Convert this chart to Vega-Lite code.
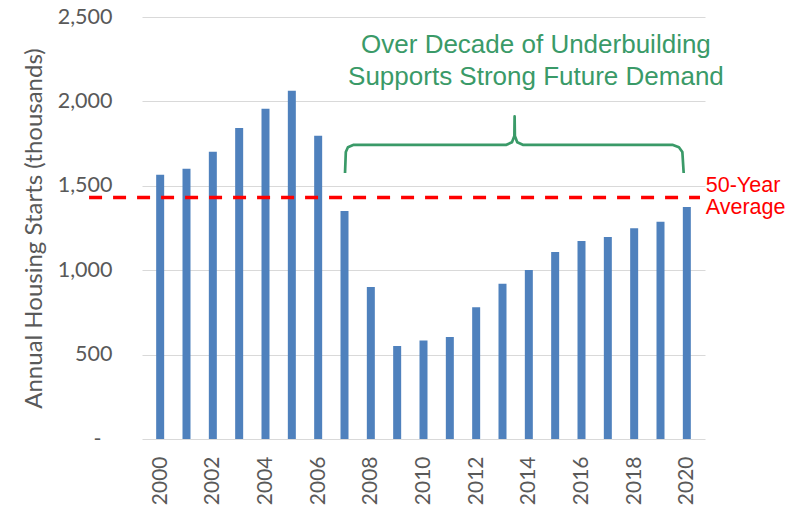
{
  "$schema": "https://vega.github.io/schema/vega-lite/v6.json",
  "width": 563,
  "height": 422,
  "autosize": "none",
  "padding": {"left": 142, "top": 17, "right": 93, "bottom": 67},
  "background": "white",
  "config": {"view": {"stroke": null}},
  "datasets": {
    "starts": [
      {"year": 2000, "starts": 1566},
      {"year": 2001, "starts": 1601},
      {"year": 2002, "starts": 1702},
      {"year": 2003, "starts": 1842},
      {"year": 2004, "starts": 1957},
      {"year": 2005, "starts": 2063},
      {"year": 2006, "starts": 1797},
      {"year": 2007, "starts": 1351},
      {"year": 2008, "starts": 900},
      {"year": 2009, "starts": 551},
      {"year": 2010, "starts": 584},
      {"year": 2011, "starts": 604},
      {"year": 2012, "starts": 780},
      {"year": 2013, "starts": 920},
      {"year": 2014, "starts": 1001},
      {"year": 2015, "starts": 1108},
      {"year": 2016, "starts": 1173},
      {"year": 2017, "starts": 1197},
      {"year": 2018, "starts": 1248},
      {"year": 2019, "starts": 1287},
      {"year": 2020, "starts": 1374}
    ],
    "avg": [{"average": 1431, "label": "50-Year\nAverage"}],
    "brace": [
      {"i": 1, "x": 2007.02, "y": 1576},
      {"i": 2, "x": 2007.05, "y": 1700},
      {"i": 3, "x": 2007.13, "y": 1728},
      {"i": 4, "x": 2007.35, "y": 1743},
      {"i": 5, "x": 2013.15, "y": 1743},
      {"i": 6, "x": 2013.36, "y": 1758},
      {"i": 7, "x": 2013.45, "y": 1795},
      {"i": 8, "x": 2013.46, "y": 1911},
      {"i": 9, "x": 2013.47, "y": 1795},
      {"i": 10, "x": 2013.56, "y": 1758},
      {"i": 11, "x": 2013.77, "y": 1743},
      {"i": 12, "x": 2019.45, "y": 1743},
      {"i": 13, "x": 2019.7, "y": 1728},
      {"i": 14, "x": 2019.83, "y": 1700},
      {"i": 15, "x": 2019.88, "y": 1576}
    ],
    "note": [{"text": "Over Decade of Underbuilding\nSupports Strong Future Demand"}]
  },
  "layer": [
    {
      "data": {"name": "starts"},
      "mark": {"type": "bar", "width": 8, "color": "#4F81BD"},
      "encoding": {
        "x": {
          "field": "year",
          "type": "quantitative",
          "scale": {"domain": [1999.5, 2020.5], "nice": false, "zero": false},
          "axis": {
            "values": [2000, 2002, 2004, 2006, 2008, 2010, 2012, 2014, 2016, 2018, 2020],
            "format": "d",
            "labelAngle": -90,
            "labelFont": "Lato",
            "labelFontSize": 21,
            "labelColor": "#595959",
            "tickSize": 0,
            "labelPadding": 17,
            "domain": false,
            "grid": false,
            "title": null
          }
        },
        "y": {
          "field": "starts",
          "type": "quantitative",
          "scale": {"domain": [0, 2500], "nice": false},
          "axis": {
            "values": [0, 500, 1000, 1500, 2000, 2500],
            "labelExpr": "datum.value === 0 ? '-' : format(datum.value, ',')",
            "labelFont": "Lato",
            "labelFontSize": 21.5,
            "labelColor": "#595959",
            "labelPadding": {"condition": {"test": "datum.value === 0", "value": 41}, "value": 30},
            "tickSize": 0,
            "domain": false,
            "gridColor": "#D9D9D9",
            "gridWidth": 1,
            "title": "Annual Housing Starts (thousands)",
            "titleFont": "Lato",
            "titleFontSize": 24,
            "titleFontWeight": "normal",
            "titleColor": "#595959",
            "titlePadding": 11
          }
        }
      }
    },
    {
      "data": {"name": "avg"},
      "mark": {"type": "rule", "color": "#FF0000", "strokeWidth": 3.5, "strokeDash": [13, 11]},
      "encoding": {
        "x": {"datum": 1997.3},
        "x2": {"datum": 2020.5},
        "y": {"field": "average", "type": "quantitative"}
      }
    },
    {
      "data": {"name": "avg"},
      "mark": {"type": "text", "align": "left", "baseline": "middle", "color": "#FF0000", "font": "Liberation Sans", "fontSize": 21.5, "lineBreak": "\n", "lineHeight": 22},
      "encoding": {
        "x": {"datum": 2020.72},
        "y": {"datum": 1497},
        "text": {"field": "label"}
      }
    },
    {
      "data": {"name": "brace"},
      "mark": {"type": "line", "color": "#3A9A68", "strokeWidth": 2.7, "strokeJoin": "round"},
      "encoding": {
        "x": {"field": "x", "type": "quantitative"},
        "y": {"field": "y", "type": "quantitative"},
        "order": {"field": "i"}
      }
    },
    {
      "data": {"name": "note"},
      "mark": {"type": "text", "align": "center", "baseline": "middle", "color": "#3A9A68", "font": "Liberation Sans", "fontSize": 26, "lineBreak": "\n", "lineHeight": 32},
      "encoding": {
        "x": {"datum": 2014.27},
        "y": {"datum": 2334},
        "text": {"field": "text"}
      }
    }
  ]
}
